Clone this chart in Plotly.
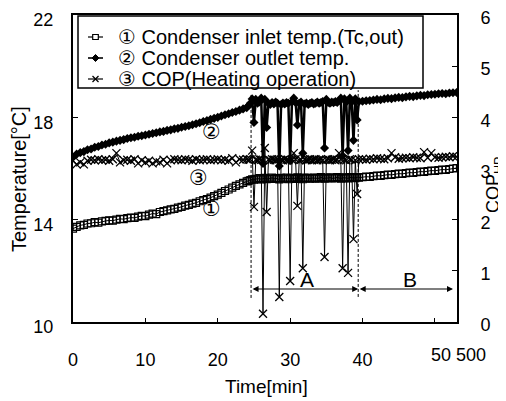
import plotly.graph_objects as go

# ---------------- data ----------------
# time grid [min]: 0..24 step 0.5, 24.25..39.5 step 0.25, 40..53 step 0.5
T_EARLY = [i * 0.5 for i in range(49)]
T_MID = [24.25 + i * 0.25 for i in range(62)]
T_LATE = [40 + i * 0.5 for i in range(27)]
TIME = T_EARLY + T_MID + T_LATE

# (1) condenser inlet temperature [degC]
INLET_EARLY = [13.65, 13.72, 13.78, 13.80, 13.85, 13.86, 13.90, 13.88, 13.93, 13.95,
               13.97, 13.96, 14.00, 14.03, 14.02, 14.06, 14.08, 14.07, 14.12, 14.15,
               14.14, 14.20, 14.24, 14.22, 14.30, 14.33, 14.36, 14.40, 14.42, 14.47,
               14.50, 14.55, 14.58, 14.63, 14.66, 14.72, 14.76, 14.80, 14.86, 14.92,
               14.98, 15.05, 15.12, 15.18, 15.25, 15.32, 15.38, 15.44, 15.50]
INLET_MID = [15.52, 15.55, 15.58, 15.56, 15.60, 15.58, 15.62, 15.57, 15.60, 15.63, 15.58, 15.61,
             15.60, 15.64, 15.59, 15.62, 15.60, 15.57, 15.63, 15.61, 15.60, 15.64, 15.58, 15.62,
             15.61, 15.63, 15.59, 15.65, 15.60, 15.62, 15.58, 15.64, 15.61, 15.63, 15.60, 15.62,
             15.64, 15.60, 15.63, 15.61, 15.66, 15.62, 15.60, 15.64, 15.62, 15.65, 15.61, 15.63,
             15.62, 15.66, 15.63, 15.60, 15.65, 15.62, 15.64, 15.61, 15.66, 15.63, 15.65, 15.62,
             15.66, 15.64]
INLET_LATE = [15.66, 15.68, 15.67, 15.70, 15.72, 15.71, 15.74, 15.76, 15.75, 15.78,
              15.80, 15.79, 15.82, 15.84, 15.83, 15.86, 15.88, 15.87, 15.90, 15.92,
              15.91, 15.94, 15.96, 15.95, 15.98, 16.00, 16.02]

# (2) condenser outlet temperature [degC]
OUTLET_EARLY = [16.45, 16.56, 16.62, 16.66, 16.73, 16.76, 16.83, 16.86, 16.92, 16.95,
                17.00, 17.03, 17.07, 17.10, 17.13, 17.17, 17.20, 17.22, 17.26, 17.28,
                17.31, 17.34, 17.37, 17.40, 17.43, 17.45, 17.49, 17.51, 17.55, 17.57,
                17.61, 17.64, 17.67, 17.71, 17.75, 17.79, 17.84, 17.87, 17.92, 17.96,
                18.00, 18.05, 18.10, 18.14, 18.19, 18.23, 18.28, 18.33, 18.38]
OUTLET_MID = [18.45, 18.55, 18.72, 17.80, 18.70, 18.55, 18.60, 18.75, 16.20, 18.70, 17.60, 18.55,
              18.50, 18.58, 18.52, 18.60, 18.55, 16.10, 18.50, 18.56, 18.52, 18.58, 18.55, 16.30,
              18.60, 18.75, 18.58, 17.70, 18.55, 18.60, 16.60, 18.52, 18.56, 18.50, 18.55, 18.58,
              18.52, 18.55, 18.60, 18.55, 18.58, 18.62, 16.80, 18.70, 18.58, 18.55, 18.60, 18.57,
              18.62, 18.58, 18.65, 18.75, 16.50, 18.72, 18.60, 16.70, 18.75, 18.60, 17.10, 18.72,
              17.90, 18.62]
OUTLET_LATE = [18.63, 18.65, 18.66, 18.68, 18.70, 18.69, 18.72, 18.74, 18.73, 18.76,
               18.78, 18.77, 18.80, 18.82, 18.81, 18.84, 18.86, 18.85, 18.88, 18.89,
               18.90, 18.92, 18.93, 18.92, 18.95, 18.96, 18.97]

# (3) COP (heating operation) [-]
COP_EARLY = [3.15, 3.08, 3.12, 3.08, 3.15, 3.17, 3.16, 3.18, 3.16, 3.17,
             3.15, 3.18, 3.30, 3.12, 3.16, 3.17, 3.15, 3.18, 3.10, 3.16,
             3.12, 3.15, 3.10, 3.14, 3.12, 3.17, 3.10, 3.16, 3.18, 3.17,
             3.16, 3.18, 3.17, 3.15, 3.18, 3.16, 3.17, 3.18, 3.16, 3.17,
             3.18, 3.16, 3.17, 3.15, 3.20, 3.12, 3.18, 3.17, 3.18]
COP_MID = [3.17, 3.18, 3.35, 2.25, 3.17, 3.16, 3.18, 3.17, 0.16, 3.40, 2.15, 3.17,
           3.16, 3.18, 3.17, 3.16, 3.18, 0.49, 3.17, 3.16, 3.18, 3.17, 3.16, 0.80,
           3.17, 3.30, 3.18, 2.27, 3.16, 3.17, 1.05, 3.18, 3.16, 3.17, 3.18, 3.16,
           3.17, 3.18, 3.16, 3.17, 3.18, 3.16, 1.27, 3.17, 3.18, 3.16, 3.17, 3.18,
           3.16, 3.17, 3.30, 3.18, 1.05, 3.17, 3.16, 0.96, 3.18, 3.17, 1.62, 3.16,
           2.50, 3.18]
COP_LATE = [3.18, 3.17, 3.19, 3.18, 3.20, 3.19, 3.18, 3.20, 3.30, 3.22,
            3.19, 3.20, 3.21, 3.20, 3.22, 3.21, 3.20, 3.32, 3.21, 3.30, 3.22,
            3.21, 3.22, 3.23, 3.22, 3.24, 3.23]

INLET = INLET_EARLY + INLET_MID + INLET_LATE
OUTLET = OUTLET_EARLY + OUTLET_MID + OUTLET_LATE
COP = COP_EARLY + COP_MID + COP_LATE

NAMES = ["① Condenser inlet temp.(Tc,out)",
         "② Condenser outlet temp.",
         "③ COP(Heating operation)"]

X_TICKS = [0, 10, 20, 30, 40]
Y_TICKS = [10, 14, 18, 22]
Y2_TICKS = [0, 1, 2, 3, 4, 5, 6]

REGION_A = (24.6, 39.4)
REGION_B_END = 52.5

FONT = "Liberation Sans, Arial, DejaVu Sans, sans-serif"

# ---------------- geometry (figure px; page body adds an 8px margin) ----------------
W, H = 498, 393
ML, MR, MT, MB = 65, 49, 7, 79
PW, PH = W - ML - MR, H - MT - MB


def px(xf):   # figure px -> paper x
    return (xf - ML) / PW


def py(yf):   # figure px -> paper y
    return (H - MB - yf) / PH


# ---------------- figure ----------------
fig = go.Figure()
fig.add_trace(go.Scatter(
    x=TIME, y=INLET, name=NAMES[0], mode="lines+markers",
    line=dict(color="black", width=1),
    marker=dict(symbol="square-open", size=7, color="black", line=dict(width=1.2, color="black")),
))
fig.add_trace(go.Scatter(
    x=TIME, y=OUTLET, name=NAMES[1], mode="lines+markers",
    line=dict(color="black", width=2.5),
    marker=dict(symbol="diamond", size=7, color="black"),
))
fig.add_trace(go.Scatter(
    x=TIME, y=COP, name=NAMES[2], mode="lines+markers", yaxis="y2",
    line=dict(color="black", width=1),
    marker=dict(symbol="x-thin", size=8, color="black", line=dict(width=1.3, color="black")),
))

shapes = []
# region boundaries (dashed)
for xv, (y0, y1) in zip(REGION_A, [(0.47, 4.44), (0.49, 4.53)]):
    shapes.append(dict(type="line", xref="x", yref="y2", x0=xv, x1=xv, y0=y0, y1=y1,
                       line=dict(color="black", width=1, dash="3px,2px")))

# legend drawn as a framed block of text rows with matching symbols
LEG_BOX = (70, 8, 415, 80)          # figure px: left, top, right, bottom
LEG_ROWS = [29, 50, 71]             # row centres (figure px)
SYM_X = (80, 95)                    # symbol line span (figure px)
TEXT_X = 108
shapes.append(dict(type="rect", xref="paper", yref="paper", layer="above",
                   x0=px(LEG_BOX[0]), x1=px(LEG_BOX[2]), y0=py(LEG_BOX[3]), y1=py(LEG_BOX[1]),
                   line=dict(color="black", width=1.5), fillcolor="white"))
cx = (SYM_X[0] + SYM_X[1]) / 2
for i, ry in enumerate(LEG_ROWS):
    shapes.append(dict(type="line", xref="paper", yref="paper", layer="above",
                       x0=px(SYM_X[0]), x1=px(SYM_X[1]), y0=py(ry), y1=py(ry),
                       line=dict(color="black", width=1.2 if i != 1 else 1.6)))
    if i == 0:
        shapes.append(dict(type="rect", xref="paper", yref="paper", layer="above",
                           x0=px(cx - 2.8), x1=px(cx + 2.8), y0=py(ry + 2.5), y1=py(ry - 2.5),
                           line=dict(color="black", width=1.2), fillcolor="white"))
    elif i == 1:
        path = "M {} {} L {} {} L {} {} L {} {} Z".format(
            px(cx - 3.5), py(ry), px(cx), py(ry - 3.5), px(cx + 3.5), py(ry), px(cx), py(ry + 3.5))
        shapes.append(dict(type="path", xref="paper", yref="paper", layer="above", path=path,
                           line=dict(color="black", width=1), fillcolor="black"))
    else:
        for d in (1, -1):
            shapes.append(dict(type="line", xref="paper", yref="paper", layer="above",
                               x0=px(cx - 3), x1=px(cx + 3), y0=py(ry - 3 * d), y1=py(ry + 3 * d),
                               line=dict(color="black", width=1.2)))

ARROW_Y = 0.645
annos = []
for ry, name in zip(LEG_ROWS, NAMES):
    annos.append(dict(x=px(TEXT_X), y=py(ry), xref="paper", yref="paper", text=name,
                      xanchor="left", yanchor="middle", showarrow=False,
                      font=dict(size=20, color="black", family=FONT)))
annos.append(dict(x=REGION_A[1], y=ARROW_Y, ax=REGION_A[0], ay=ARROW_Y,
                  xref="x", yref="y2", axref="x", ayref="y2", text="",
                  showarrow=True, arrowhead=2, arrowside="end+start", arrowsize=1,
                  arrowwidth=1.2, arrowcolor="black", standoff=0, startstandoff=0))
annos.append(dict(x=REGION_B_END, y=ARROW_Y, ax=REGION_A[1], ay=ARROW_Y,
                  xref="x", yref="y2", axref="x", ayref="y2", text="",
                  showarrow=True, arrowhead=2, arrowside="end+start", arrowsize=1,
                  arrowwidth=1.2, arrowcolor="black", standoff=0, startstandoff=0))
annos.append(dict(x=32.3, y=0.84, xref="x", yref="y2", text="A", showarrow=False,
                  font=dict(size=21, color="black", family=FONT)))
annos.append(dict(x=46.5, y=0.84, xref="x", yref="y2", text="B", showarrow=False,
                  font=dict(size=21, color="black", family=FONT)))
for txt, xv, yv in [("②", 19.2, 17.43), ("③", 17.27, 15.63), ("①", 19.1, 14.42)]:
    annos.append(dict(x=xv, y=yv, xref="x", yref="y", text=txt, showarrow=False,
                      font=dict(size=21, color="black", family="DejaVu Sans, sans-serif")))
# axis titles
annos.append(dict(x=px(11), y=py(171), xref="paper", yref="paper", text="Temperature[°C]",
                  textangle=-90, showarrow=False, xanchor="center", yanchor="middle",
                  font=dict(size=20, color="black", family=FONT)))
annos.append(dict(x=px(486), y=py(177), xref="paper", yref="paper", text="COP<sub>HP</sub>",
                  textangle=-90, showarrow=False, xanchor="center", yanchor="middle",
                  font=dict(size=18, color="black", family=FONT)))
annos.append(dict(x=px(258), y=py(378), xref="paper", yref="paper", text="Time[min]",
                  showarrow=False, xanchor="center", yanchor="middle",
                  font=dict(size=19, color="black", family=FONT)))
annos.append(dict(x=px(450), y=py(347), xref="paper", yref="paper", text="50 500",
                  showarrow=False, xanchor="center", yanchor="middle",
                  font=dict(size=18, color="black", family=FONT)))

fig.update_layout(
    width=W, height=H,
    margin=dict(l=ML, r=MR, t=MT, b=MB, autoexpand=False),
    paper_bgcolor="white", plot_bgcolor="white",
    font=dict(family=FONT, size=18, color="black"),
    showlegend=False,
    shapes=shapes,
    annotations=annos,
    xaxis=dict(range=[0, 53.05], tickvals=X_TICKS + [50], ticktext=[str(v) for v in X_TICKS] + [""],
               ticks="inside", ticklen=4, tickwidth=1.2, tickcolor="black",
               showline=True, linecolor="black", linewidth=2, mirror=True,
               showgrid=False, zeroline=False, ticklabelstandoff=20, automargin=False,
               ticklabeloverflow="allow", tickfont=dict(size=18)),
    yaxis=dict(range=[10, 22], tickvals=Y_TICKS, ticks="inside", ticklen=5, tickwidth=1.2,
               tickcolor="black", showline=True, linecolor="black", linewidth=2,
               showgrid=False, zeroline=False, ticklabelstandoff=14, automargin=False,
               ticklabeloverflow="allow", ticklabelshift=5, tickfont=dict(size=18)),
    yaxis2=dict(range=[0, 6], tickvals=Y2_TICKS, ticks="inside", ticklen=5, tickwidth=1.2,
                tickcolor="black", showline=True, linecolor="black", linewidth=2,
                overlaying="y", side="right", showgrid=False, zeroline=False,
                ticklabelstandoff=18, automargin=False, ticklabeloverflow="allow",
                ticklabelshift=3, tickfont=dict(size=18)),
)

fig.write_html("out.html")
